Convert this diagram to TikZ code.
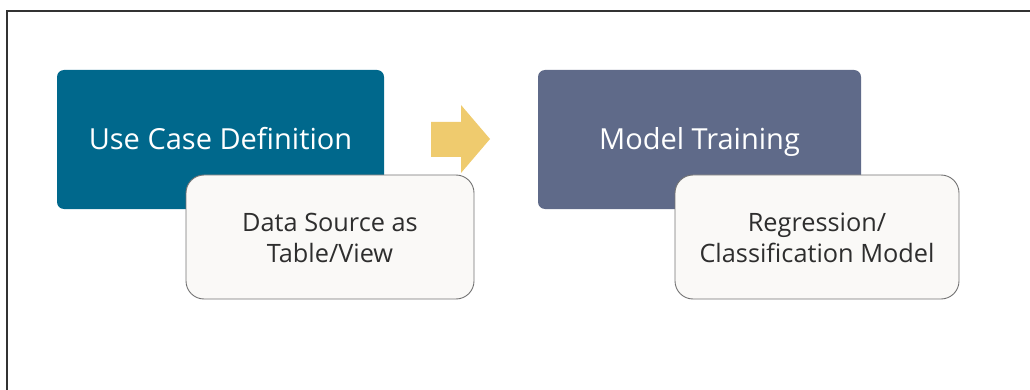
\documentclass[tikz,border=0pt]{standalone}
\usepackage{fontspec}
\setmainfont{Open Sans}
\begin{document}
\begin{tikzpicture}[x=1pt,y=-1pt,
  mainbox/.style={rounded corners=7pt, draw=none},
  subbox/.style={rounded corners=18pt, draw=black!55, line width=0.9pt, fill=subfill},
  titletxt/.style={text=white, font=\fontsize{29}{34}\selectfont, anchor=base},
  subtxt/.style={text=txtgray, font=\fontsize{25.3}{31}\selectfont, align=center},
]
\definecolor{teal}{HTML}{00688C}
\definecolor{slate}{HTML}{5F6A89}
\definecolor{subfill}{HTML}{FAF9F7}
\definecolor{arrowy}{HTML}{EFCB6E}
\definecolor{txtgray}{HTML}{2E2E2E}
\useasboundingbox (0,0) rectangle (1030,390);
\draw[line width=2pt, color=black!80] (1031,11) -- (7,11) -- (7,391);
% boxes
\fill[teal, mainbox] (57,70) rectangle (384,209);
\node[titletxt] (uc) at (220.5,150) {Use Case Definition};
\draw[subbox] (186,175) rectangle (474,299);
\node[subtxt] (ds) at (330,238) {Data Source as\\Table/View};
\fill[slate, mainbox] (538,70) rectangle (861,209);
\node[titletxt] (mt) at (699.5,150) {Model Training};
\draw[subbox] (675,175) rectangle (959,299);
\node[subtxt] (rc) at (817,238) {Regression/\\Classification Model};
% arrow
\fill[arrowy] (431,122) -- (461,122) -- (461,105) -- (490,139) -- (461,173) -- (461,157) -- (431,157) -- cycle;
\end{tikzpicture}
\end{document}
